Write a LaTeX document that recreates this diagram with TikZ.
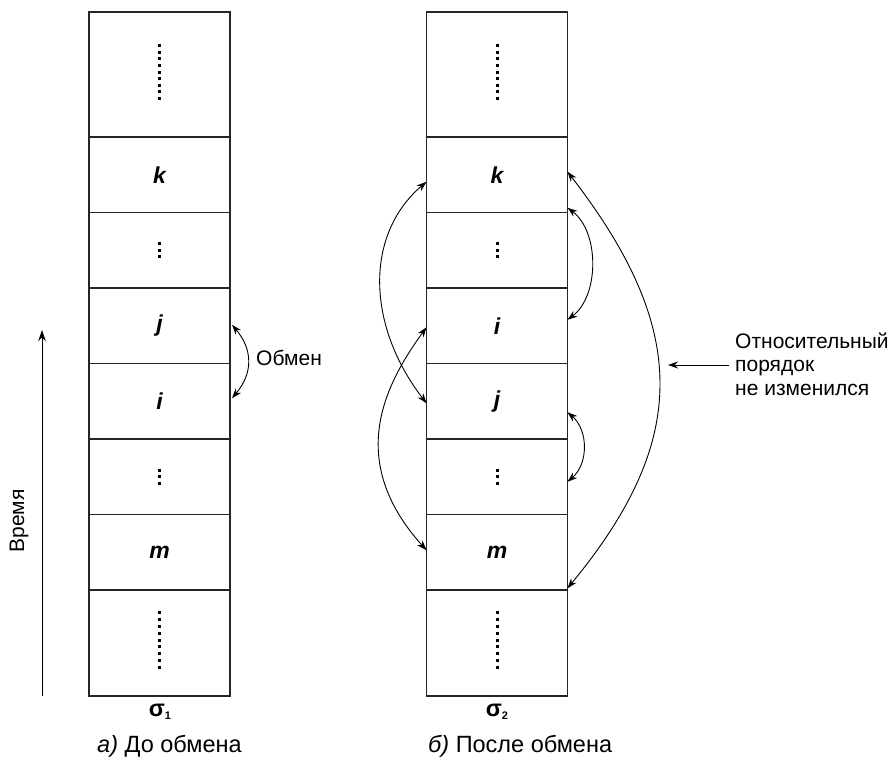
\documentclass[tikz,border=0pt]{standalone}
\usepackage{fontspec}
\setmainfont{Liberation Sans}
\usetikzlibrary{arrows.meta,calc}
\begin{document}
\begin{tikzpicture}[x=1pt,y=-1pt,
  cellbox/.style={draw=black!85, line width=1.1pt, minimum width=141pt, inner sep=0pt, outer sep=0pt,
    font=\fontsize{23}{27}\selectfont\bfseries\itshape},
  swap/.style={line width=0.9pt, {Stealth[length=10pt,width=7pt]}-{Stealth[length=10pt,width=7pt]}},
  label/.style={font=\fontsize{21}{23.5}\selectfont, inner sep=0pt},
  caption/.style={font=\fontsize{23.5}{27}\selectfont, inner sep=0pt},
]
\useasboundingbox (0,0) rectangle (893,758);

% column sigma_1
\node[cellbox, minimum height=125pt]  (a1) at (159.5,74.5)  {};
\node[cellbox, minimum height=75.5pt] (a2) at (159.5,174.75) {k};
\node[cellbox, minimum height=75.5pt] (a3) at (159.5,250.25) {};
\node[cellbox, minimum height=75.5pt] (a4) at (159.5,325.75) {j};
\node[cellbox, minimum height=75.5pt] (a5) at (159.5,401.25) {i};
\node[cellbox, minimum height=75.5pt] (a6) at (159.5,476.75) {};
\node[cellbox, minimum height=75.5pt] (a7) at (159.5,552.25) {m};
\node[cellbox, minimum height=106pt]  (a8) at (159.5,643)    {};

% column sigma_2
\node[cellbox, minimum height=125pt]  (b1) at (497,74.5)  {};
\node[cellbox, minimum height=75.5pt] (b2) at (497,174.75) {k};
\node[cellbox, minimum height=75.5pt] (b3) at (497,250.25) {};
\node[cellbox, minimum height=75.5pt] (b4) at (497,325.75) {i};
\node[cellbox, minimum height=75.5pt] (b5) at (497,401.25) {j};
\node[cellbox, minimum height=75.5pt] (b6) at (497,476.75) {};
\node[cellbox, minimum height=75.5pt] (b7) at (497,552.25) {m};
\node[cellbox, minimum height=106pt]  (b8) at (497,643)    {};

% vertical dot columns
\foreach \c in {a1,b1} \foreach \d in {-4,...,4}
  \fill ($(\c.center)+(0,\d*6.6-2.5)$) +(-1.5,-1.5) rectangle +(1.5,1.5);
\foreach \c in {a8,b8} \foreach \d in {-4,...,4}
  \fill ($(\c.center)+(0,\d*6.8-3)$) +(-1.5,-1.5) rectangle +(1.5,1.5);
\foreach \c in {a3,a6,b3,b6} \foreach \d in {-1,0,1}
  \fill ($(\c.center)+(0,\d*6.6)$) +(-1.5,-1.5) rectangle +(1.5,1.5);

% column captions
\node[caption] (s1) at (160,712) {\bfseries σ\raisebox{-3pt}{\fontsize{11}{11}\selectfont 1}};
\node[caption] (s2) at (497,712) {\bfseries σ\raisebox{-3pt}{\fontsize{11}{11}\selectfont 2}};
\node[caption, anchor=west] (ca) at (97,746) {{\itshape а)} До обмена};
\node[caption, anchor=west] (cb) at (428,746) {{\itshape б)} После обмена};

% time axis
\coordinate (t0) at (42,696);
\coordinate (t1) at (42,330);
\draw[line width=0.9pt, -{Stealth[length=11pt,width=7.5pt]}] (t0) -- (t1);
\node[label, rotate=90] (time) at (19,521) {Время};

% swap in sigma_1
\draw[swap] ($(a4.east)+(2,-1)$) .. controls +(21,25) and +(21,-25) .. ($(a5.east)+(2,-3)$);
\node[label, anchor=west] (swp) at (256,358) {Обмен};

% pairs in sigma_2, left side
\draw[swap] ($(b2.west)+(0,7)$) .. controls +(-62,53) and +(-60,-78) .. ($(b5.west)+(0,2)$);
\draw[swap] ($(b4.west)+(0,1.5)$) .. controls +(-42,58) and +(-81,-90) .. ($(b7.west)+(0,-2)$);

% pairs in sigma_2, right side
\draw[swap] ($(b2.east)+(0,33)$) .. controls +(32,24) and +(32,-24) .. ($(b4.east)+(0,-6)$);
\draw[swap] ($(b5.east)+(0,11)$) .. controls +(21,18) and +(21,-18) .. ($(b6.east)+(0,5)$);
\draw[swap] ($(b2.east)+(0,-3)$) .. controls +(122,158) and +(122,-148) .. ($(b7.east)+(0,36)$);

% note on the order
\node[label, anchor=west, align=left] (note) at (735,364) {Относительный\\порядок\\не изменился};
\coordinate (notetip) at (668,365);
\draw[line width=0.9pt, -{Stealth[length=10pt,width=7pt]}] ($(note.west)+(-6,1)$) -- (notetip);
\end{tikzpicture}
\end{document}
